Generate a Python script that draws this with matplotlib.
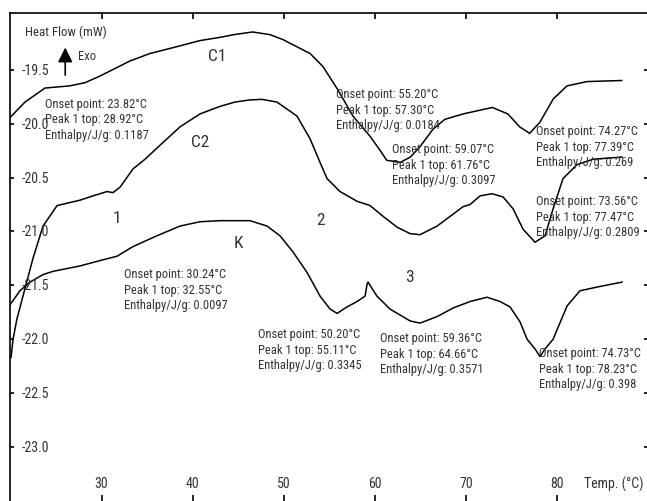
import matplotlib
matplotlib.use("Agg")
import matplotlib.pyplot as plt

plt.rcParams['font.family'] = ['Roboto Condensed', 'DejaVu Sans']

# DSC curves (temperature in C, heat flow in mW)
c1_t = [20.0, 21.6, 23.8, 26.5, 28.2, 29.8, 33.1, 35.3, 38.1, 40.8, 43.0, 44.5,
        46.6, 48.5, 49.9, 52.9, 54.3, 55.9, 57.6, 59.5, 60.6, 61.3, 62.8, 63.9,
        65.0, 66.4, 67.7, 69.7, 72.9, 74.6, 75.9, 77.0, 78.1, 79.6, 81.1, 83.3,
        87.1]
c1_hf = [-19.94, -19.80, -19.67, -19.65, -19.62, -19.56, -19.42, -19.35, -19.29,
         -19.23, -19.20, -19.175, -19.15, -19.175, -19.22, -19.35, -19.47, -19.68,
         -19.93, -20.12, -20.25, -20.34, -20.36, -20.31, -20.21, -20.05, -19.96,
         -19.91, -19.85, -19.91, -20.03, -20.09, -19.99, -19.77, -19.65, -19.61,
         -19.60]

c2_t = [20.07, 20.29, 20.72, 21.60, 22.48, 23.58, 25.12, 27.64, 29.07, 30.60,
        31.26, 32.03, 33.46, 34.78, 36.43, 38.62, 40.81, 43.01, 44.65, 46.31,
        47.62, 49.26, 51.46, 52.89, 53.99, 54.76, 56.18, 58.05, 59.48, 60.91,
        62.44, 63.87, 64.97, 66.84, 68.59, 69.69, 70.46, 71.56, 72.87, 74.08,
        75.18, 76.28, 77.59, 78.69, 79.57, 80.66, 82.20, 83.96, 87.14]
c2_hf = [-22.17, -22.00, -21.81, -21.53, -21.25, -20.95, -20.76, -20.71, -20.67,
         -20.63, -20.64, -20.59, -20.42, -20.33, -20.20, -20.03, -19.91, -19.84,
         -19.80, -19.78, -19.775, -19.80, -19.93, -20.14, -20.36, -20.51, -20.63,
         -20.72, -20.76, -20.86, -20.96, -21.02, -21.03, -20.95, -20.84, -20.77,
         -20.75, -20.67, -20.65, -20.68, -20.79, -20.98, -21.10, -21.04, -20.79,
         -20.51, -20.38, -20.33, -20.31]

k_t = [19.96, 21.05, 22.15, 23.58, 24.68, 27.64, 29.84, 31.70, 33.46, 36.09,
       38.62, 40.81, 43.01, 46.30, 48.17, 49.59, 51.02, 52.56, 53.99, 55.09,
       55.86, 56.95, 58.05, 58.93, 59.15, 59.26, 59.70, 60.24, 61.67, 63.87,
       64.96, 66.83, 68.59, 70.46, 72.32, 73.75, 74.85, 75.95, 76.72, 77.59,
       78.14, 78.69, 79.57, 81.11, 82.53, 84.73, 87.14]
k_hf = [-21.68, -21.55, -21.47, -21.40, -21.37, -21.32, -21.27, -21.23, -21.14,
        -21.04, -20.95, -20.91, -20.90, -20.90, -20.95, -21.04, -21.19, -21.38,
        -21.60, -21.72, -21.76, -21.70, -21.65, -21.60, -21.49, -21.47, -21.53,
        -21.60, -21.72, -21.83, -21.85, -21.79, -21.71, -21.65, -21.61, -21.65,
        -21.70, -21.84, -22.00, -22.09, -22.16, -22.09, -22.00, -21.69, -21.55,
        -21.51, -21.47]

x_ticks = [30, 40, 50, 60, 70, 80]
y_ticks = [-19.5, -20.0, -20.5, -21.0, -21.5, -22.0, -22.5, -23.0]

# peak annotations: (x, y, onset, peak top, enthalpy)
peaks = [
    (23.80, -19.957, '23.82', '28.92', '0.1187'),
    (32.47, -21.534, '30.24', '32.55', '0.0097'),
    (55.74, -19.865, '55.20', '57.30', '0.0184'),
    (61.89, -20.375, '59.07', '61.76', '0.3097'),
    (77.69, -20.208, '74.27', '77.39', '0.269'),
    (77.69, -20.857, '73.56', '77.47', '0.2809'),
    (47.18, -22.091, '50.20', '55.11', '0.3345'),
    (60.57, -22.128, '59.36', '64.66', '0.3571'),
    (78.02, -22.267, '74.73', '78.23', '0.398'),
]
curve_labels = [('C1', 42.7, -19.37), ('C2', 40.8, -20.17), ('1', 31.7, -20.87),
                ('2', 54.0, -20.885), ('K', 45.0, -21.10), ('3', 63.75, -21.42)]

fig = plt.figure(figsize=(6.47, 5.02), dpi=100)
ax = fig.add_axes([10.4 / 647, 0, 637.7 / 647, 488 / 502])

for t, hf in [(c1_t, c1_hf), (c2_t, c2_hf), (k_t, k_hf)]:
    ax.plot(t, hf, color='black', lw=1.1)

ax.set_xlim(20, 90)
ax.set_ylim(-23.5, -18.974)

ax.spines['right'].set_visible(False)
ax.spines['bottom'].set_visible(False)
for s in ['left', 'top']:
    ax.spines[s].set_linewidth(1.2)

ax.set_xticks(x_ticks)
ax.set_yticks(y_ticks)
ax.tick_params(axis='x', direction='in', top=True, bottom=True, length=4.5,
               width=1.2, labelbottom=False)
ax.tick_params(axis='y', direction='in', left=True, right=True, length=3,
               width=1.2, labelleft=False)

tc = '#333333'
for v in y_ticks:
    ax.text(0.018, v, f'{v:.1f}', transform=ax.get_yaxis_transform(),
            ha='left', va='center', fontsize=10, color=tc)
for v in x_ticks:
    ax.text(v, 0.037, str(v), transform=ax.get_xaxis_transform(),
            ha='center', va='center', fontsize=10, color=tc)
ax.text(82.97, 0.037, 'Temp. (°C)', transform=ax.get_xaxis_transform(),
        ha='left', va='center', fontsize=10, color=tc)

ax.text(0.023, 0.962, 'Heat Flow (mW)', transform=ax.transAxes,
        ha='left', va='center', fontsize=9.3, color=tc)
ax.annotate('', xy=(0.086, 0.935), xytext=(0.086, 0.867),
            xycoords='axes fraction', textcoords='axes fraction',
            arrowprops=dict(arrowstyle='-|>', color='black', lw=1.2,
                            mutation_scale=22))
ax.text(0.106, 0.913, 'Exo', transform=ax.transAxes, ha='left', va='center',
        fontsize=9, color=tc)

for x, y, onset, top, enth in peaks:
    ax.text(x, y, f'Onset point: {onset}°C\nPeak 1 top: {top}°C\nEnthalpy/J/g: {enth}',
            ha='left', va='center', fontsize=9, linespacing=1.25, color=tc)

for lab, x, y in curve_labels:
    ax.text(x, y, lab, ha='center', va='center', fontsize=12.5, color=tc)

fig.savefig('out.png', dpi=100)
